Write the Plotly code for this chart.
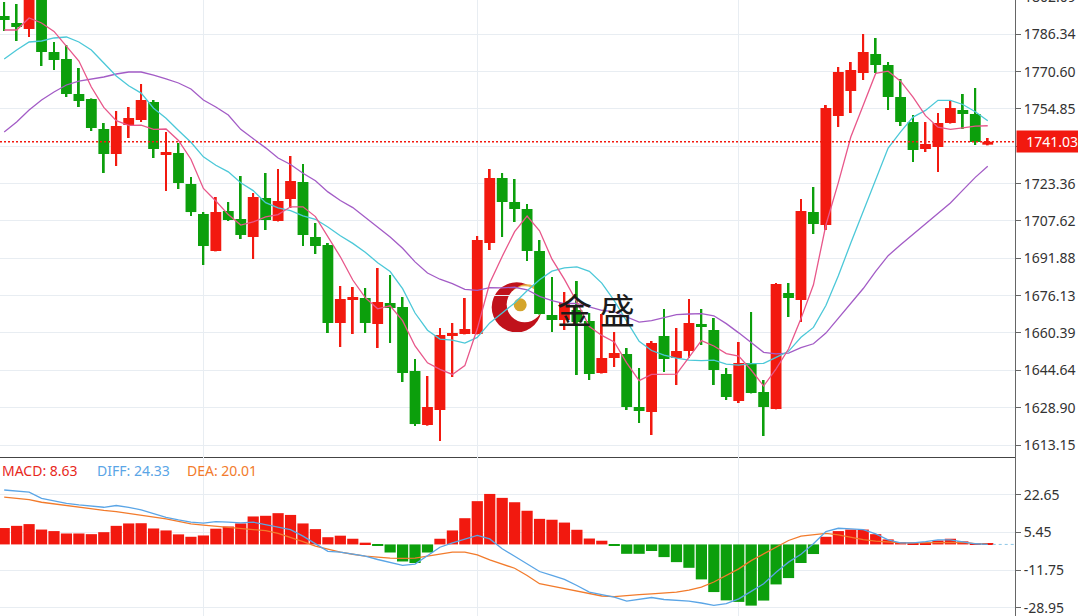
import plotly.graph_objects as go
import pandas as pd

# ---------------- data ----------------
opens = [1794.05, 1791.10, 1788.57, 1801.00, 1778.87, 1775.92, 1761.16, 1759.05, 1746.40, 1735.86,
         1748.09, 1750.20, 1757.79, 1735.44, 1736.28, 1723.21, 1710.56, 1694.96, 1711.82, 1708.45,
         1700.86, 1717.30, 1707.60, 1716.88, 1724.05, 1700.86, 1697.48, 1664.59, 1674.29, 1675.13,
         1664.17, 1673.03, 1671.34, 1644.35, 1621.58, 1627.90, 1659.53, 1659.95, 1659.95, 1698.33,
         1725.74, 1715.62, 1712.67, 1694.96, 1667.97, 1665.86, 1670.07, 1665.44, 1643.51, 1649.83,
         1651.52, 1629.17, 1627.06, 1659.11, 1649.83, 1652.78, 1664.17, 1661.64, 1643.08, 1631.70,
         1647.72, 1635.49, 1628.33, 1677.24, 1674.29, 1711.40, 1705.92, 1751.88, 1762.43, 1770.02,
         1778.03, 1773.39, 1759.89, 1749.35, 1737.97, 1738.81, 1748.93, 1754.41, 1752.73, 1739.80]
highs = [1799.96, 1799.11, 1803.33, 1803.00, 1783.09, 1781.82, 1772.12, 1759.30, 1748.93, 1754.00,
         1755.68, 1765.38, 1758.63, 1745.14, 1740.50, 1726.16, 1711.40, 1717.73, 1715.62, 1726.58,
         1719.41, 1727.85, 1729.53, 1735.02, 1731.64, 1706.76, 1698.33, 1680.19, 1679.77, 1679.35,
         1687.78, 1684.83, 1675.55, 1649.41, 1642.24, 1662.49, 1664.59, 1675.13, 1701.28, 1729.53,
         1727.85, 1725.32, 1714.77, 1699.59, 1684.00, 1677.66, 1682.30, 1668.81, 1668.39, 1660.80,
         1654.05, 1645.62, 1657.00, 1670.50, 1662.49, 1674.71, 1670.50, 1666.70, 1645.62, 1656.58,
         1669.23, 1640.55, 1681.46, 1681.46, 1716.88, 1721.94, 1756.52, 1772.55, 1774.65, 1786.46,
         1784.78, 1774.65, 1767.49, 1752.30, 1749.35, 1753.15, 1758.63, 1761.16, 1763.69, 1742.61]
lows = [1787.73, 1783.51, 1785.20, 1772.97, 1771.28, 1759.89, 1755.68, 1745.56, 1727.85, 1730.80,
        1742.61, 1749.35, 1734.17, 1720.26, 1721.10, 1709.71, 1689.05, 1694.80, 1707.60, 1700.01,
        1691.58, 1703.81, 1707.40, 1713.09, 1697.06, 1693.69, 1660.37, 1654.47, 1659.95, 1660.37,
        1654.05, 1656.16, 1639.71, 1621.15, 1621.30, 1614.83, 1641.82, 1659.80, 1659.80, 1695.38,
        1700.86, 1707.18, 1690.74, 1668.20, 1660.80, 1661.64, 1642.66, 1640.55, 1643.30, 1646.04,
        1627.90, 1622.42, 1617.36, 1643.93, 1638.45, 1649.83, 1655.31, 1638.45, 1632.12, 1630.86,
        1634.90, 1616.94, 1628.20, 1667.12, 1665.01, 1702.12, 1703.81, 1747.24, 1753.15, 1767.06,
        1770.02, 1754.41, 1747.67, 1732.48, 1736.70, 1728.27, 1748.70, 1746.40, 1739.65, 1739.50]
closes = [1792.37, 1789.41, 1801.64, 1778.87, 1775.50, 1761.16, 1758.21, 1746.82, 1735.86, 1747.67,
          1751.04, 1758.63, 1737.97, 1736.70, 1723.63, 1711.38, 1697.06, 1711.40, 1708.03, 1701.70,
          1717.73, 1708.03, 1716.04, 1724.47, 1701.70, 1697.06, 1664.59, 1674.71, 1675.55, 1664.59,
          1673.45, 1670.92, 1643.51, 1621.99, 1629.17, 1659.53, 1660.37, 1662.06, 1699.59, 1725.74,
          1715.62, 1712.67, 1694.96, 1668.39, 1665.86, 1673.03, 1665.01, 1643.08, 1649.83, 1651.94,
          1629.17, 1627.48, 1656.16, 1649.41, 1652.78, 1664.59, 1662.90, 1644.77, 1633.38, 1647.72,
          1635.07, 1629.17, 1681.04, 1675.13, 1711.82, 1706.34, 1755.26, 1770.44, 1771.28, 1778.87,
          1773.39, 1759.89, 1749.35, 1737.54, 1740.08, 1748.93, 1755.26, 1752.73, 1740.92, 1741.03]

# moving-average values before the window is full
ma5_head = [1788.15, 1788.15, 1793.21, 1791.10]
ma10_head = [1775.92, 1779.72, 1783.09, 1783.51, 1784.78, 1785.20, 1783.09, 1779.72, 1774.23]
ma20_head = [1745.14, 1749.35, 1754.41, 1758.63, 1762.00, 1764.96, 1766.64, 1767.49, 1768.33,
             1769.59, 1770.44, 1770.44, 1769.17, 1767.49, 1765.80, 1763.27, 1758.63, 1755.68, 1752.30]

macd = [7.5, 8.5, 9.3, 6.8, 6.1, 5.0, 5.0, 4.7, 5.6, 8.5,
        9.6, 9.7, 7.3, 6.4, 4.6, 3.5, 4.1, 7.2, 8.2, 9.6,
        12.8, 13.1, 14.3, 13.5, 9.6, 7.0, 3.3, 4.0, 2.6, 0.8,
        -0.3, -3.7, -7.8, -8.5, -3.7, 2.6, 6.4, 12.0, 19.8, 23.1,
        21.3, 19.3, 15.4, 11.7, 11.3, 10.0, 6.7, 2.7, 1.7, -0.6,
        -4.3, -4.3, -3.0, -5.8, -8.1, -10.7, -16.0, -21.8, -25.6, -26.3,
        -28.0, -25.7, -18.3, -15.4, -8.5, -4.4, 3.5, 6.1, 6.8, 6.8,
        4.7, 2.3, 1.1, 0.8, 0.8, 1.8, 2.6, 1.4, 0.5, 0.2]
diff = [24.9, 24.5, 23.9, 21.1, 19.9, 18.8, 18.1, 17.5, 17.0, 17.8,
        17.0, 15.8, 14.0, 12.4, 11.2, 10.2, 9.7, 10.4, 10.2, 9.9,
        10.2, 9.1, 8.2, 6.8, 3.8, 0.3, -3.2, -3.5, -4.5, -5.4,
        -6.9, -8.1, -9.6, -9.0, -5.1, -1.3, 0.7, 2.5, 4.1, 2.5,
        -2.0, -5.4, -8.9, -12.4, -14.2, -16.0, -18.8, -21.8, -23.0, -24.1,
        -25.9, -25.2, -24.3, -25.2, -25.5, -25.9, -26.8, -27.9, -27.1, -24.9,
        -21.5, -18.0, -12.7, -8.1, -4.5, 0.3, 5.9, 7.4, 7.1, 6.8,
        4.8, 2.1, 0.7, 0.7, 1.3, 2.1, 2.1, 1.3, 0.3, 0.0]
dea = [21.6, 21.1, 20.5, 19.3, 18.5, 17.8, 17.0, 16.2, 15.6, 15.0,
       14.2, 13.5, 12.6, 11.7, 10.5, 9.4, 8.8, 8.3, 7.9, 7.4,
       7.0, 6.3, 5.0, 3.3, 1.3, -0.8, -2.3, -3.5, -4.5, -5.4,
       -5.8, -6.3, -6.4, -6.3, -5.4, -4.5, -3.5, -3.5, -4.8, -7.1,
       -8.9, -10.9, -14.2, -18.0, -19.1, -20.3, -21.5, -22.6, -23.6, -23.9,
       -23.6, -23.0, -22.6, -22.3, -21.8, -20.9, -19.5, -17.2, -14.2, -11.2,
       -7.4, -4.3, -1.3, 1.8, 3.8, 4.5, 5.1, 4.4, 3.3, 2.2,
       1.5, 1.0, 0.7, 0.7, 0.7, 0.9, 1.0, 0.9, 0.4, 0.1]

price_ticks = [1613.15, 1628.90, 1644.64, 1660.39, 1676.13, 1691.88, 1707.62,
               1723.36, 1739.11, 1754.85, 1770.60, 1786.34]
# the 1739.11 label sits under the current-price box in the reference
price_tick_labels = ["1613.15", "1628.90", "1644.64", "1660.39", "1676.13", "1691.88", "1707.62",
                     "1723.36", "", "1754.85", "1770.60", "1786.34"]
top_tick_label = "1802.09"
macd_ticks = [22.65, 5.45, -11.75, -28.95]
macd_tick_labels = ["22.65", "5.45", "-11.75", "-28.95"]
grid_positions = [16, 38, 59]
last_price = 1741.03
legend_macd, legend_diff, legend_dea = "8.63", "24.33", "20.01"

# ---------------- styling ----------------
RED = "#f2190f"
GREEN = "#0c9f0c"
MA5_C, MA10_C, MA20_C = "#e8578a", "#4cc8d8", "#a35cc6"
DIFF_C, DEA_C = "#5aa5e6", "#f27b2c"
GRID = "#e8edf2"
AXIS = "#666666"
FONT = "Noto Sans"

n = len(closes)
idx = list(range(n))
s = pd.Series(closes)


def moving_average(window, head):
    vals = s.rolling(window).mean().tolist()
    return head + vals[len(head):]


ma5 = moving_average(5, ma5_head)
ma10 = moving_average(10, ma10_head)
ma20 = moving_average(20, ma20_head)

cols = [RED if c >= o else GREEN for o, c in zip(opens, closes)]
body_base = [min(o, c) for o, c in zip(opens, closes)]
body_h = [max(abs(c - o), 0.7) for o, c in zip(opens, closes)]
wick_h = [h - l for h, l in zip(highs, lows)]

fig = go.Figure()
fig.add_trace(go.Bar(x=idx, y=wick_h, base=lows, width=0.15, marker=dict(color=cols, line_width=0),
                     xaxis="x", yaxis="y", hoverinfo="skip"))
fig.add_trace(go.Bar(x=idx, y=body_h, base=body_base, width=0.87, marker=dict(color=cols, line_width=0),
                     xaxis="x", yaxis="y", hoverinfo="skip"))
for vals, c in [(ma20, MA20_C), (ma10, MA10_C), (ma5, MA5_C)]:
    fig.add_trace(go.Scatter(x=idx, y=vals, mode="lines", line=dict(color=c, width=1.3),
                             xaxis="x", yaxis="y", hoverinfo="skip"))

mcols = [RED if v >= 0 else GREEN for v in macd]
fig.add_trace(go.Bar(x=idx, y=macd, width=0.9, marker=dict(color=mcols, line_width=0),
                     xaxis="x2", yaxis="y2", hoverinfo="skip"))
fig.add_trace(go.Scatter(x=idx, y=dea, mode="lines", line=dict(color=DEA_C, width=1.3),
                         xaxis="x2", yaxis="y2", hoverinfo="skip"))
fig.add_trace(go.Scatter(x=idx, y=diff, mode="lines", line=dict(color=DIFF_C, width=1.3),
                         xaxis="x2", yaxis="y2", hoverinfo="skip"))

W, H = 1078, 616
PW = 1015
split = 1 - 457 / H
xr = [-0.337, 81.19]
yr = [1608.09, 1800.80]

fig.update_layout(
    width=W, height=H, margin=dict(l=0, r=W - PW, t=0, b=0),
    paper_bgcolor="white", plot_bgcolor="white",
    barmode="overlay", showlegend=False,
    font=dict(family=FONT, size=14, color="#333333"),
    xaxis=dict(domain=[0, 1], range=xr, anchor="y", tickvals=grid_positions, showticklabels=False,
               ticks="", showgrid=True, gridcolor=GRID, zeroline=False,
               showline=True, linecolor="#444444", linewidth=1),
    xaxis2=dict(domain=[0, 1], range=xr, anchor="y2", matches="x", tickvals=grid_positions,
                showticklabels=False, ticks="", showgrid=True, gridcolor=GRID, zeroline=False,
                showline=False),
    yaxis=dict(domain=[split, 1], range=yr, side="right", anchor="x",
               tickvals=price_ticks, ticktext=price_tick_labels, ticks="outside", ticklen=5,
               tickcolor=AXIS, showline=True, linecolor=AXIS, showgrid=True, gridcolor=GRID,
               zeroline=False, tickfont=dict(size=14, color="#333333"),
               ticklabeloverflow="allow"),
    yaxis2=dict(domain=[0, split], range=[-32.75, 40.0], side="right", anchor="x2",
                tickvals=macd_ticks, ticktext=macd_tick_labels, ticks="outside", ticklen=5,
                tickcolor=AXIS, showline=True, linecolor=AXIS, showgrid=True, gridcolor=GRID,
                zeroline=False, tickfont=dict(size=14, color="#333333"),
                ticklabeloverflow="allow"),
)

# current price dotted line and label
fig.add_shape(type="line", xref="paper", x0=0, x1=1, yref="y", y0=last_price, y1=last_price,
              line=dict(color=RED, width=1.3, dash="2px,2px"))
fig.add_annotation(xref="paper", x=1, xanchor="left", xshift=1, yref="y", y=last_price,
                   text=f"{last_price:.2f}", showarrow=False, bgcolor=RED, width=60, height=19,
                   borderpad=1, align="right", font=dict(color="white", size=14, family=FONT))
fig.add_annotation(xref="paper", x=1, xanchor="left", xshift=7, yref="paper", y=1 + 3 / H,
                   yanchor="middle", text=top_tick_label, showarrow=False,
                   font=dict(size=14, color="#333333", family=FONT))

# zero-line dashed extension in MACD panel
fig.add_shape(type="line", xref="x2", x0=79.4, x1=81.19, yref="y2", y0=0, y1=0,
              line=dict(color="#8cc6e6", width=1, dash="3px,3px"))

# MACD legend texts
legend_y = 1 - 470 / H
fig.add_annotation(xref="paper", x=0, xanchor="left", yref="paper", y=legend_y, yanchor="middle",
                   text=f"MACD: {legend_macd}", showarrow=False, font=dict(color="#e8281c", size=14))
fig.add_annotation(xref="paper", x=95 / PW, xanchor="left", yref="paper", y=legend_y,
                   yanchor="middle", text=f"DIFF: {legend_diff}", showarrow=False,
                   font=dict(color=DIFF_C, size=14))
fig.add_annotation(xref="paper", x=185 / PW, xanchor="left", yref="paper", y=legend_y,
                   yanchor="middle", text=f"DEA: {legend_dea}", showarrow=False,
                   font=dict(color=DEA_C, size=14))

# watermark logo (anchored in data space, drawn beneath the candles)
lx = xr[0] + 516.7 / PW * (xr[1] - xr[0])
ly = yr[1] - 307.3 / 457 * (yr[1] - yr[0])


def circ(x0, x1, y0, y1, color):
    fig.add_shape(type="circle", xref="x", yref="y", xsizemode="pixel", ysizemode="pixel",
                  xanchor=lx, yanchor=ly, x0=x0, x1=x1, y0=y0, y1=y1, fillcolor=color,
                  line=dict(width=0), layer="below")


circ(-25, 25, -25, 25, "#c0121b")
circ(-8, 28, -13, 23, "#e8b84a")
circ(-10, 26, -15, 21, "white")
circ(-3, 10, -4, 9, "#d4a52c")
fig.add_annotation(xref="paper", yref="paper", x=596 / PW, y=1 - 308 / H, text="金 盛",
                   showarrow=False, font=dict(family="Noto Sans CJK SC", size=35, color="#1b1b1b"))

fig.write_html("out.html", config={"displayModeBar": False},
               post_script="document.body.style.margin='0px';"
                           "document.body.style.overflow='hidden';")
